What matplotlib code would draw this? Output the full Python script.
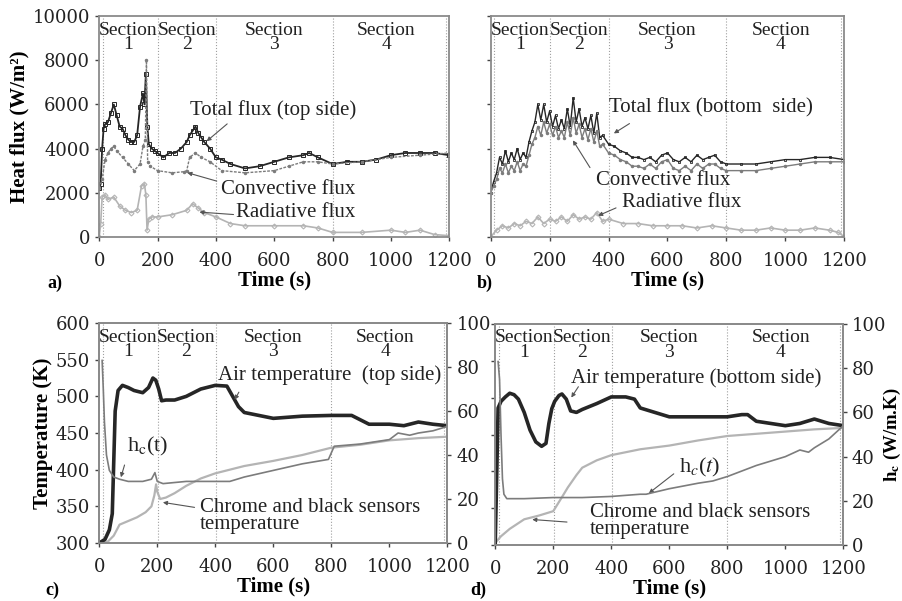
import matplotlib
matplotlib.use("Agg")
import matplotlib.pyplot as plt

plt.rcParams['font.family'] = ['Liberation Serif', 'DejaVu Serif']
plt.rcParams['mathtext.fontset'] = 'stix'

# ---- a) top side heat fluxes (W/m2) ----
t_a_total = [0, 5, 10, 15, 20, 30, 40, 50, 60, 70, 80, 90, 100, 110, 120, 130, 140, 150, 155, 160,
             165, 170, 180, 190, 200, 220, 240, 260, 280, 300, 310, 320, 330, 340, 350, 360, 380, 400,
             420, 450, 500, 550, 600, 650, 700, 720, 750, 800, 850, 900, 950, 1000, 1050, 1100, 1150, 1200]
a_total = [2200, 2400, 4000, 4900, 5100, 5200, 5600, 6000, 5500, 5000, 4900, 4600, 4400, 4300, 4300,
           4600, 5900, 6500, 6000, 7400, 5000, 4200, 4000, 3900, 3800, 3600, 3800, 3800, 4000, 4300,
           4600, 4800, 5000, 4700, 4500, 4300, 4000, 3600, 3500, 3300, 3100, 3200, 3400, 3600, 3700,
           3800, 3600, 3300, 3400, 3400, 3500, 3700, 3800, 3800, 3800, 3700]
t_a_conv = [0, 10, 20, 30, 40, 50, 60, 80, 100, 120, 140, 150, 158, 162, 166, 175, 200, 250, 290, 300,
            310, 330, 350, 380, 420, 500, 600, 650, 700, 750, 800, 900, 1000, 1100, 1200]
a_conv = [2200, 2600, 3500, 3800, 4000, 4100, 3900, 3600, 3300, 3000, 3300, 4100, 4400, 8000, 3400,
          3200, 3000, 2900, 2950, 3000, 3600, 3800, 3600, 3400, 3000, 2900, 3000, 3200, 3400, 3400,
          3300, 3400, 3600, 3700, 3800]
t_a_rad = [0, 5, 10, 20, 30, 50, 70, 90, 110, 130, 145, 155, 160, 164, 170, 180, 200, 250, 300, 320,
           340, 360, 400, 450, 500, 600, 700, 750, 800, 900, 1000, 1050, 1100, 1150, 1200]
a_rad = [0, 600, 1800, 1900, 1700, 1800, 1400, 1200, 1100, 1200, 2300, 2400, 1900, 300, 800, 900,
         900, 1000, 1200, 1500, 1300, 1100, 900, 600, 500, 500, 500, 400, 200, 200, 300, 200, 300, 100, 50]

# ---- b) bottom side heat fluxes (W/m2) ----
t_b = [0, 10, 20, 30, 40, 50, 60, 70, 80, 90, 100, 110, 120, 130, 140, 150, 160, 170, 180, 190,
       200, 210, 220, 230, 240, 250, 260, 270, 280, 290, 300, 310, 320, 330, 340, 350, 360, 370, 380,
       400, 420, 440, 460, 480, 500, 520, 540, 560, 580, 600, 620, 640, 660, 680, 700, 720, 740, 760,
       780, 800, 850, 900, 950, 1000, 1050, 1100, 1150, 1200]
b_total = [2000, 2500, 2900, 3600, 3300, 3900, 3400, 3800, 3500, 4000, 3500, 3800, 3600, 4300, 4800,
           5200, 6000, 5300, 6000, 5200, 5700, 5000, 5500, 4900, 5300, 4900, 5800, 5000, 6300, 5200,
           5800, 5000, 5400, 4900, 5500, 4700, 5600, 4500, 4600, 4200, 4100, 3900, 3800, 3600, 3600,
           3500, 3600, 3400, 3700, 3800, 3500, 3400, 3600, 3400, 3700, 3500, 3600, 3700, 3400, 3300,
           3300, 3300, 3400, 3500, 3500, 3600, 3600, 3500]
b_conv = [2000, 2300, 2600, 3100, 2900, 3300, 2900, 3200, 3000, 3400, 3000, 3300, 3200, 3700, 4200,
          4500, 5000, 4600, 5200, 4700, 5100, 4600, 5000, 4500, 4800, 4500, 5200, 4600, 5400, 4700,
          5100, 4500, 4900, 4400, 4900, 4300, 4800, 4100, 4200, 3800, 3700, 3500, 3400, 3200, 3200,
          3100, 3300, 3100, 3400, 3500, 3100, 3000, 3200, 3000, 3300, 3100, 3300, 3300, 3100, 3000,
          3000, 3000, 3100, 3200, 3300, 3400, 3400, 3400]
t_b_rad = [0, 20, 40, 60, 80, 100, 120, 140, 160, 180, 200, 220, 240, 260, 280, 300, 320, 340, 360,
           380, 400, 450, 500, 550, 600, 650, 700, 750, 800, 850, 900, 950, 1000, 1050, 1100, 1150,
           1180, 1200]
b_rad = [0, 300, 500, 400, 600, 500, 700, 600, 900, 600, 800, 700, 900, 700, 1000, 800, 900, 800,
         1100, 700, 800, 600, 600, 500, 500, 500, 400, 500, 400, 300, 300, 400, 300, 300, 400, 300, 200, 0]

# ---- c) top side temperatures (K) and h_c (W/m.K) ----
t_c_air = [0, 20, 35, 45, 55, 65, 80, 100, 120, 150, 170, 185, 195, 205, 215, 230, 260, 300, 350, 400,
           440, 460, 480, 500, 550, 600, 700, 800, 870, 900, 930, 1000, 1050, 1100, 1150, 1200]
c_air = [300, 305, 318, 340, 480, 508, 515, 512, 508, 505, 512, 525, 522, 510, 494, 495, 495, 500,
         510, 515, 514, 500, 486, 478, 474, 470, 473, 474, 474, 468, 462, 462, 460, 465, 462, 460]
t_c_sens = [0, 30, 50, 70, 100, 130, 160, 180, 190, 196, 200, 210, 230, 260, 300, 350, 400, 500, 600,
            700, 800, 900, 1000, 1100, 1200]
c_sens = [300, 302, 310, 325, 330, 335, 342, 350, 365, 380, 370, 360, 362, 368, 378, 388, 395, 405,
          412, 420, 430, 434, 440, 443, 445]
t_c_h = [10, 14, 18, 25, 35, 50, 70, 100, 150, 180, 192, 200, 220, 300, 400, 450, 500, 600, 700, 790,
         810, 900, 1000, 1030, 1070, 1100, 1150, 1200]
c_h = [83, 70, 55, 40, 33, 30, 29, 28, 28, 29, 32, 28, 27, 28, 28, 28, 30, 33, 36, 38, 44, 45, 47,
       50, 49, 50, 51, 53]

# ---- d) bottom side temperatures (K) and h_c (W/m.K) ----
t_d_air = [0, 5, 10, 20, 35, 50, 65, 80, 100, 120, 140, 160, 175, 185, 195, 205, 220, 230, 245, 260,
           280, 300, 350, 400, 450, 480, 500, 550, 600, 700, 800, 850, 870, 900, 950, 1000, 1050, 1100,
           1150, 1200]
d_air = [300, 390, 486, 495, 501, 506, 504, 498, 480, 456, 440, 434, 438, 465, 485, 495, 503, 505,
         498, 482, 480, 484, 492, 501, 501, 498, 486, 480, 474, 474, 474, 477, 477, 468, 465, 462, 465,
         471, 465, 462]
t_d_sens = [0, 20, 50, 100, 150, 200, 230, 250, 280, 300, 350, 400, 500, 600, 700, 800, 900, 1000,
            1100, 1200]
d_sens = [303, 312, 322, 335, 340, 346, 365, 378, 395, 405, 415, 422, 430, 435, 442, 448, 451, 454,
          457, 459]
t_d_h = [10, 15, 20, 25, 30, 40, 60, 100, 200, 300, 400, 500, 520, 600, 700, 750, 800, 900, 1000,
         1050, 1080, 1100, 1150, 1200]
d_h = [83, 75, 50, 30, 23, 21, 21, 21, 21.5, 21.5, 22, 23, 23, 25.5, 28, 29, 31, 36, 40, 43, 42, 44,
       48, 54]

section_x = [100, 300, 600, 985]
section_names = ["Section\n1", "Section\n2", "Section\n3", "Section\n4"]
section_lines = [12, 202, 402, 800, 1190]
time_ticks = [0, 200, 400, 600, 800, 1000, 1200]
flux_ticks = [0, 2000, 4000, 6000, 8000, 10000]
temp_ticks = [300, 350, 400, 450, 500, 550, 600]
h_ticks = [0, 20, 40, 60, 80, 100]

DARK = '#262626'
MID = '#7c7c7c'
LIGHT = '#b4b4b4'
SPINE = '#8a8a8a'
TICK_FONT = dict(fontfamily='DejaVu Serif', fontsize=13, color='#222')
LAB_FS = 15


def style_spines(ax):
    for s in ax.spines.values():
        s.set_color(SPINE)
        s.set_linewidth(1.3)
    ax.tick_params(direction='out', length=3, width=1, colors='#444')


def frame(ax, yticks, ylabels=True):
    style_spines(ax)
    ax.tick_params(axis='x', pad=8)
    ax.set_xlim(0, 1200)
    ax.set_xticks(time_ticks, [str(t) for t in time_ticks], **TICK_FONT)
    ax.set_yticks(yticks, [str(t) for t in yticks] if ylabels else [], **TICK_FONT)
    ax.set_ylim(yticks[0], yticks[-1])
    for x in section_lines:
        ax.axvline(x, color='#a0a0a0', ls=':', lw=0.8, zorder=0)
    for x, s in zip(section_x, section_names):
        ax.text(x, 0.975, s, transform=ax.get_xaxis_transform(), ha='center', va='top',
                fontsize=14, linespacing=0.78, color='#222')
    ax.set_xlabel("Time (s)", fontsize=LAB_FS, fontweight='bold', labelpad=0)


def note(ax, text, xy, xytext, tx, ty, size=15, **kw):
    ax.annotate('', xy=xy, xytext=xytext,
                arrowprops=dict(arrowstyle='-|>', color='#555', lw=0.8, mutation_scale=6))
    ax.text(tx, ty, text, ha='left', va='center', fontsize=size, color='#222', **kw)


fig = plt.figure(figsize=(9.02, 6.01), dpi=100)
ax_a = fig.add_axes([0.110, 0.606, 0.388, 0.367])
ax_b = fig.add_axes([0.544, 0.606, 0.392, 0.367])
ax_c = fig.add_axes([0.110, 0.0965, 0.386, 0.366])
ax_d = fig.add_axes([0.549, 0.093, 0.386, 0.368])

# a)
ax_a.plot(t_a_total, a_total, color=DARK, lw=1.3, marker='s', ms=2.5, mfc='none', mew=0.7)
ax_a.plot(t_a_conv, a_conv, color=MID, lw=1.0, ls=(0, (2, 1)), marker='.', ms=3)
ax_a.plot(t_a_rad, a_rad, color=LIGHT, lw=1.2, marker='D', ms=2.5, mfc='none', mew=0.8)
frame(ax_a, flux_ticks)
ax_a.set_ylabel("Heat flux (W/m²)", fontsize=LAB_FS, fontweight='bold', labelpad=2)
note(ax_a, "Total flux (top side)", (361, 4250), (446, 5200), 310, 5750)
note(ax_a, "Convective flux", (293, 2940), (412, 2490), 419, 2130)
note(ax_a, "Radiative flux", (334, 1130), (470, 1000), 470, 1090)

# b)
ax_b.plot(t_b, b_total, color=DARK, lw=1.0, marker='s', ms=2, mfc='none', mew=0.6)
ax_b.plot(t_b, b_conv, color=MID, lw=1.0, marker='.', ms=3)
ax_b.plot(t_b_rad, b_rad, color=LIGHT, lw=1.2, marker='D', ms=2.5, mfc='none', mew=0.8)
frame(ax_b, flux_ticks, ylabels=False)
note(ax_b, "Total flux (bottom  side)", (410, 4620), (479, 5200), 400, 5840)
note(ax_b, "Convective flux", (274, 4480), (342, 3030), 356, 2530)
note(ax_b, "Radiative flux", (356, 905), (434, 1360), 444, 1540)

# c)
ax_c2 = ax_c.twinx()
ax_c.plot(t_c_air, c_air, color=DARK, lw=2.6, zorder=3)
ax_c.plot(t_c_sens, c_sens, color=LIGHT, lw=1.6)
ax_c2.plot(t_c_h, c_h, color=MID, lw=1.2)
frame(ax_c, temp_ticks)
style_spines(ax_c2)
ax_c2.set_yticks(h_ticks, [str(t) for t in h_ticks], **TICK_FONT)
ax_c2.set_ylim(0, 100)
ax_c.set_ylabel("Temperature (K)", fontsize=LAB_FS, fontweight='bold', labelpad=2)
note(ax_c, "Air temperature  (top side)", (462, 492), (486, 509), 410, 529)
note(ax_c, r"h$_\mathrm{c}$(t)", (72, 386), (90, 410), 97, 431, size=16)
note(ax_c, "Chrome and black sensors\ntemperature", (210, 356), (338, 348), 348, 337,
     linespacing=0.85)

# d)
ax_d2 = ax_d.twinx()
ax_d.plot(t_d_air, d_air, color=DARK, lw=2.6, zorder=3)
ax_d.plot(t_d_sens, d_sens, color=LIGHT, lw=1.6)
ax_d2.plot(t_d_h, d_h, color=MID, lw=1.2)
frame(ax_d, temp_ticks, ylabels=False)
style_spines(ax_d2)
ax_d2.tick_params(axis='y', pad=3)
ax_d2.set_yticks(h_ticks, [str(t) for t in h_ticks], **TICK_FONT)
ax_d2.set_ylim(0, 100)
ax_d2.set_ylabel("h$_\\mathbf{c}$ (W/m.K)", fontsize=13.5, fontweight='bold')
ax_d2.yaxis.set_label_coords(1.11, 0.5)
note(ax_d, "Air temperature (bottom side)", (257, 497), (292, 518), 261, 527)
note(ax_d, r"h$_c$($t$)", (522, 368), (623, 399), 633, 405, size=16)
note(ax_d, "Chrome and black sensors\ntemperature", (118, 335), (257, 331), 327, 333,
     linespacing=0.85)

for lbl, x, y in [("a)", 0.052, 0.529), ("b)", 0.528, 0.529), ("c)", 0.050, 0.018), ("d)", 0.521, 0.018)]:
    fig.text(x, y, lbl, fontsize=13, fontweight='bold', ha='left', va='center')

fig.savefig("out.png", dpi=100)
